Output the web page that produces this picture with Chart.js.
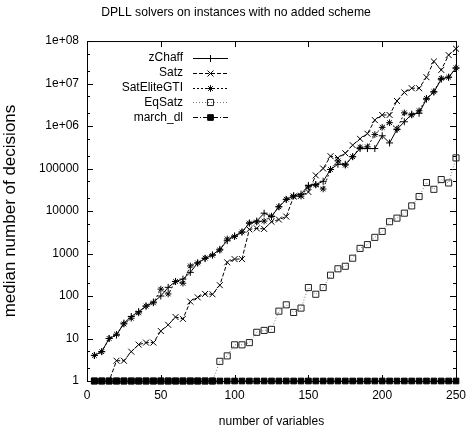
<!DOCTYPE html>
<html>
<head>
<meta charset="utf-8">
<script src="https://cdn.jsdelivr.net/npm/chart.js@4.4.1/dist/chart.umd.min.js"></script>
<style>
  html, body { margin: 0; padding: 0; background: #fff; }
  canvas { display: block; }
</style>
</head>
<body>
<canvas id="chart" width="472" height="435"></canvas>
<script>
// number of variables (x)
const variables = [5, 10, 15, 20, 25, 30, 35, 40, 45, 50, 55, 60, 65, 70, 75, 80, 85, 90, 95, 100,
  105, 110, 115, 120, 125, 130, 135, 140, 145, 150, 155, 160, 165, 170, 175, 180, 185, 190, 195, 200,
  205, 210, 215, 220, 225, 230, 235, 240, 245, 250];

// median number of decisions per solver
const zChaff = [4, 4.9, 10, 12, 23, 33, 43, 58, 72, 100, 160, 220, 250, 360, 600, 760, 930, 1260, 2000, 2600,
  3200, 5200, 5800, 8900, 7400, 12600, 18600, 23000, 25000, 40000, 42000, 50000, 95000, 126000, 126000, 190000, 295000, 295000, 295000, 590000,
  400000, 830000, 1260000, 1900000, 2000000, 4300000, 6300000, 12600000, 14100000, 23000000];
const satz = [1, 1, 1, 3, 3, 4.9, 7.2, 8, 8, 15, 21, 32, 29, 74, 93, 112, 110, 180, 620, 740,
  740, 3700, 3900, 3800, 5600, 6300, 7400, 21900, 22900, 28000, 69000, 100000, 195000, 178000, 229000, 355000, 500000, 660000, 1380000, 1820000,
  1820000, 3890000, 6170000, 7760000, 7760000, 14100000, 33100000, 20900000, 46800000, 66000000];
const satEliteGTI = [4, 4.9, 10, 12.6, 22, 30, 40, 58, 69, 145, 112, 220, 200, 510, 600, 780, 910, 1200, 2200, 2500,
  3200, 5200, 5500, 5800, 7600, 12600, 19000, 22400, 22400, 37000, 41000, 33000, 95000, 151000, 120000, 190000, 316000, 324000, 630000, 930000,
  1200000, 850000, 2040000, 1820000, 2290000, 4470000, 6460000, 13200000, 14100000, 23400000];
const eqSatz = [1, 1, 1, 1, 1, 1, 1, 1, 1, 1, 1, 1, 1, 1, 1, 1, 1, 2.9, 3.9, 7.1,
  7.1, 8, 14, 15.5, 16.4, 44, 62, 41, 52, 158, 110, 158, 309, 437, 501, 776, 1320, 1620, 2400, 3310,
  5600, 6800, 8900, 13200, 21900, 46800, 32400, 55000, 45700, 178000];
const marchDl = [1, 1, 1, 1, 1, 1, 1, 1, 1, 1, 1, 1, 1, 1, 1, 1, 1, 1, 1, 1,
  1, 1, 1, 1, 1, 1, 1, 1, 1, 1, 1, 1, 1, 1, 1, 1, 1, 1, 1, 1,
  1, 1, 1, 1, 1, 1, 1, 1, 1, 1];

const xTicks = [0, 50, 100, 150, 200, 250];
const yTicks = [1, 10, 100, 1000, 10000, 100000, 1000000, 10000000, 100000000];
const yTickLabels = ['1', '10', '100', '1000', '10000', '100000', '1e+06', '1e+07', '1e+08'];

const FONT = '"Liberation Sans", Arial, sans-serif';

function points(values) {
  return variables.map((v, i) => ({ x: v, y: values[i] }));
}

function series(label, values, opts) {
  return Object.assign({
    label: label,
    data: points(values),
    borderColor: '#000',
    borderWidth: 1,
    borderDash: [],
    pointBorderColor: '#000',
    pointBackgroundColor: '#000',
    pointBorderWidth: 1,
    pointHoverRadius: 0,
    tension: 0,
    fill: false,
    clip: false
  }, opts);
}

// gnuplot style frame with inward tick marks on all four sides
const frameTicks = {
  id: 'frameTicks',
  beforeDatasetsDraw(chart) {
    const { ctx, chartArea: a, scales: { x, y } } = chart;
    ctx.save();
    ctx.strokeStyle = '#000';
    ctx.lineWidth = 1;
    ctx.beginPath();
    xTicks.forEach(v => {
      const px = Math.round(x.getPixelForValue(v)) + 0.5;
      ctx.moveTo(px, a.bottom); ctx.lineTo(px, a.bottom - 6);
      ctx.moveTo(px, a.top); ctx.lineTo(px, a.top + 6);
    });
    yTicks.forEach((v, i) => {
      const py = Math.round(y.getPixelForValue(v)) + 0.5;
      ctx.moveTo(a.left, py); ctx.lineTo(a.left + 6, py);
      ctx.moveTo(a.right, py); ctx.lineTo(a.right - 6, py);
      if (i < yTicks.length - 1) {
        [2, 5].forEach(m => {
          const pm = Math.round(y.getPixelForValue(v * m)) + 0.5;
          ctx.moveTo(a.left, pm); ctx.lineTo(a.left + 3, pm);
          ctx.moveTo(a.right, pm); ctx.lineTo(a.right - 3, pm);
        });
      }
    });
    ctx.stroke();
    ctx.strokeRect(a.left + 0.5, a.top + 0.5, a.right - a.left, a.bottom - a.top);
    ctx.restore();
  }
};

// legend in the gnuplot layout: right aligned text, then line sample with marker
const gnuLegend = {
  id: 'gnuLegend',
  afterDraw(chart) {
    const { ctx, chartArea: a } = chart;
    const textRight = a.left + 96;
    const lineL = a.left + 106;
    const lineR = a.left + 141;
    ctx.save();
    ctx.font = '12px ' + FONT;
    ctx.textAlign = 'right';
    ctx.textBaseline = 'middle';
    chart.data.datasets.forEach((ds, i) => {
      const y = a.top + 17 + i * 14.8;
      ctx.fillStyle = '#000';
      ctx.fillText(ds.label, textRight, y);
      ctx.strokeStyle = ds.borderColor;
      ctx.lineWidth = ds.borderWidth;
      ctx.setLineDash(ds.borderDash);
      ctx.beginPath();
      ctx.moveTo(lineL, Math.round(y) + 0.5);
      ctx.lineTo(lineR, Math.round(y) + 0.5);
      ctx.stroke();
      ctx.setLineDash([]);
      ctx.strokeStyle = ds.pointBorderColor;
      ctx.fillStyle = ds.pointBackgroundColor;
      ctx.lineWidth = ds.pointBorderWidth;
      Chart.helpers.drawPoint(ctx, {
        pointStyle: ds.pointStyle,
        radius: ds.pointRadius,
        rotation: 0,
        borderWidth: ds.pointBorderWidth
      }, (lineL + lineR) / 2, Math.round(y) + 0.5);
    });
    ctx.restore();
  }
};

const ctx = document.getElementById('chart');

ctx.chart = new Chart(ctx, {
  type: 'line',
  data: {
    datasets: [
      series('zChaff', zChaff, { pointStyle: 'cross', pointRadius: 3.5, order: 5 }),
      series('Satz', satz, { borderDash: [4, 2], pointStyle: 'crossRot', pointRadius: 4.2, order: 4 }),
      series('SatEliteGTI', satEliteGTI, { borderDash: [2, 2], pointStyle: 'star', pointRadius: 3.3, order: 3 }),
      series('EqSatz', eqSatz, { borderColor: '#777', borderDash: [1, 2], pointStyle: 'rect', pointRadius: 4.3, pointBorderColor: '#222', pointBackgroundColor: 'rgba(255,255,255,0)', order: 2 }),
      series('march_dl', marchDl, { borderDash: [5, 2, 1, 2], pointStyle: 'rect', pointRadius: 4, order: 1 })
    ]
  },
  options: {
    responsive: false,
    animation: false,
    events: [],
    layout: {
      padding: 0
    },
    plugins: {
      legend: { display: false },
      tooltip: { enabled: false },
      title: {
        display: true,
        text: 'DPLL solvers on instances with no added scheme',
        color: '#000',
        font: { family: FONT, size: 12.2, weight: 'normal' },
        padding: { top: 5, bottom: 21.4 }
      }
    },
    scales: {
      x: {
        type: 'linear',
        min: 0,
        max: 250,
        afterBuildTicks(scale) { scale.ticks = xTicks.map(v => ({ value: v })); },
        afterFit(scale) {
          scale.height = 54;
          scale.paddingRight = 16;
        },
        ticks: {
          autoSkip: false,
          maxRotation: 0,
          padding: 7,
          color: '#000',
          font: { family: FONT, size: 12 }
        },
        grid: { display: false, drawTicks: false },
        border: { display: false },
        title: {
          display: true,
          text: 'number of variables',
          color: '#000',
          font: { family: FONT, size: 12 },
          padding: { top: 0, bottom: 6 }
        }
      },
      y: {
        type: 'logarithmic',
        min: 1,
        max: 100000000,
        afterBuildTicks(scale) { scale.ticks = yTicks.map(v => ({ value: v })); },
        afterFit(scale) { scale.width = 87; },
        ticks: {
          autoSkip: false,
          padding: 8,
          color: '#000',
          font: { family: FONT, size: 12 },
          callback: function(value) {
            const i = yTicks.indexOf(value);
            return i >= 0 ? yTickLabels[i] : '';
          }
        },
        grid: { display: false, drawTicks: false },
        border: { display: false },
        title: {
          display: true,
          text: 'median number of decisions',
          color: '#000',
          font: { family: FONT, size: 17 },
          padding: { top: 0, bottom: 0 }
        }
      }
    }
  },
  plugins: [frameTicks, gnuLegend]
});
</script>
</body>
</html>
